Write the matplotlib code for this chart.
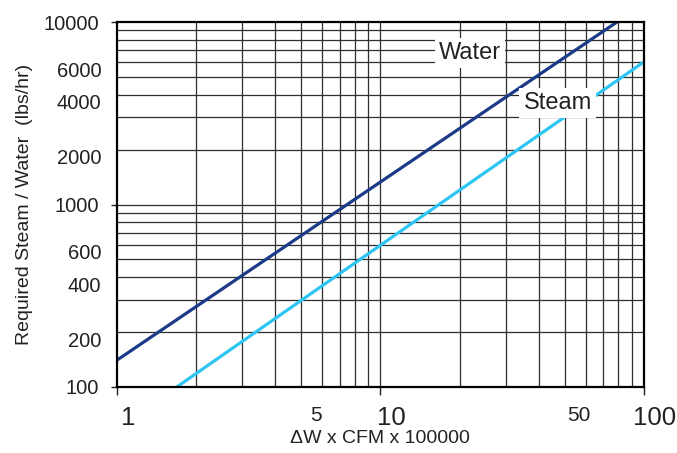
import matplotlib
matplotlib.use("Agg")
import matplotlib.pyplot as plt
from matplotlib.transforms import ScaledTranslation

plt.rcParams['font.family'] = ['Liberation Sans', 'DejaVu Sans']

# ---- data ----
water_x = [1, 79]
water_y = [140, 10000]
steam_x = [1.69, 100]
steam_y = [100, 6050]

x_major_ticks = [1, 10, 100]
x_major_labels = ['1', '10', '100']
x_minor_ticks = [5, 50]
x_minor_labels = ['5', '50']
y_major_ticks = [100, 1000, 10000]
y_major_labels = ['100', '1000', '10000']
y_minor_ticks = [200, 400, 600, 2000, 4000, 6000]
y_minor_labels = ['200', '400', '600', '2000', '4000', '6000']

water_label = ('Water', 21.9, 6750)
steam_label = ('Steam', 47.1, 3590)

# ---- figure ----
W, H = 677, 453
fig = plt.figure(figsize=(W / 100, H / 100), dpi=100)
ax = fig.add_axes([116.7 / W, 1 - 387 / H, (644 - 116.7) / W, (387 - 22) / H])
ax.set_xscale('log')
ax.set_yscale('log')
ax.set_xlim(1, 100)
ax.set_ylim(100, 10000)

# grid lines
grid_x = [k * 10 ** d for d in (0, 1) for k in range(2, 10)] + [10]
grid_y = [k * 10 ** d for d in (2, 3) for k in range(2, 10)] + [1000]
for gx in grid_x:
    ax.axvline(gx, color='#2e2e2e', lw=0.9, zorder=1)
for gy in grid_y:
    ax.axhline(gy, color='#2e2e2e', lw=0.9, zorder=1)

ax.plot(water_x, water_y, color='#1b3a87', lw=2.3, zorder=3, solid_capstyle='butt')
ax.plot(steam_x, steam_y, color='#2ec5f2', lw=2.3, zorder=3, solid_capstyle='butt')

for name, tx, ty in (water_label, steam_label):
    ax.text(tx, ty, name, fontsize=17, ha='center', va='center', color='#222222', zorder=5,
            bbox=dict(facecolor='white', edgecolor='none', pad=3.0))

for s in ax.spines.values():
    s.set_linewidth(1.6)
    s.set_color('black')
    s.set_zorder(6)

ax.set_xticks(x_major_ticks)
ax.set_xticklabels(x_major_labels)
ax.set_xticks(x_minor_ticks, minor=True)
ax.set_xticklabels(x_minor_labels, minor=True)
ax.set_yticks(y_major_ticks)
ax.set_yticklabels(y_major_labels)
ax.set_yticks(y_minor_ticks, minor=True)
ax.set_yticklabels(y_minor_labels, minor=True)

ax.tick_params(axis='x', which='major', length=6, width=1.0, pad=8, labelsize=18.5, colors='#222222')
ax.tick_params(axis='x', which='minor', length=0, pad=13.5, labelsize=15, colors='#222222')
ax.tick_params(axis='y', which='major', length=4, width=1.0, pad=9, labelsize=14.5, colors='#222222')
ax.tick_params(axis='y', which='minor', length=0, pad=11, labelsize=14.5, colors='#222222')

ax.set_xlabel('ΔW x CFM x 100000', fontsize=14, color='#222222', labelpad=0)
ax.set_ylabel('Required Steam / Water  (lbs/hr)', fontsize=14, color='#222222', labelpad=7)

# small label offsets as in the reference
for lbl in ax.get_xticklabels():
    lbl.set_transform(lbl.get_transform() + ScaledTranslation(0.11, 0, fig.dpi_scale_trans))
for lbl in ax.get_xticklabels(minor=True):
    lbl.set_transform(lbl.get_transform() + ScaledTranslation(0.145, 0, fig.dpi_scale_trans))
for lbl in ax.get_yticklabels(minor=True):
    lbl.set_transform(lbl.get_transform() + ScaledTranslation(0, -0.07, fig.dpi_scale_trans))

fig.savefig('out.png', dpi=100)
